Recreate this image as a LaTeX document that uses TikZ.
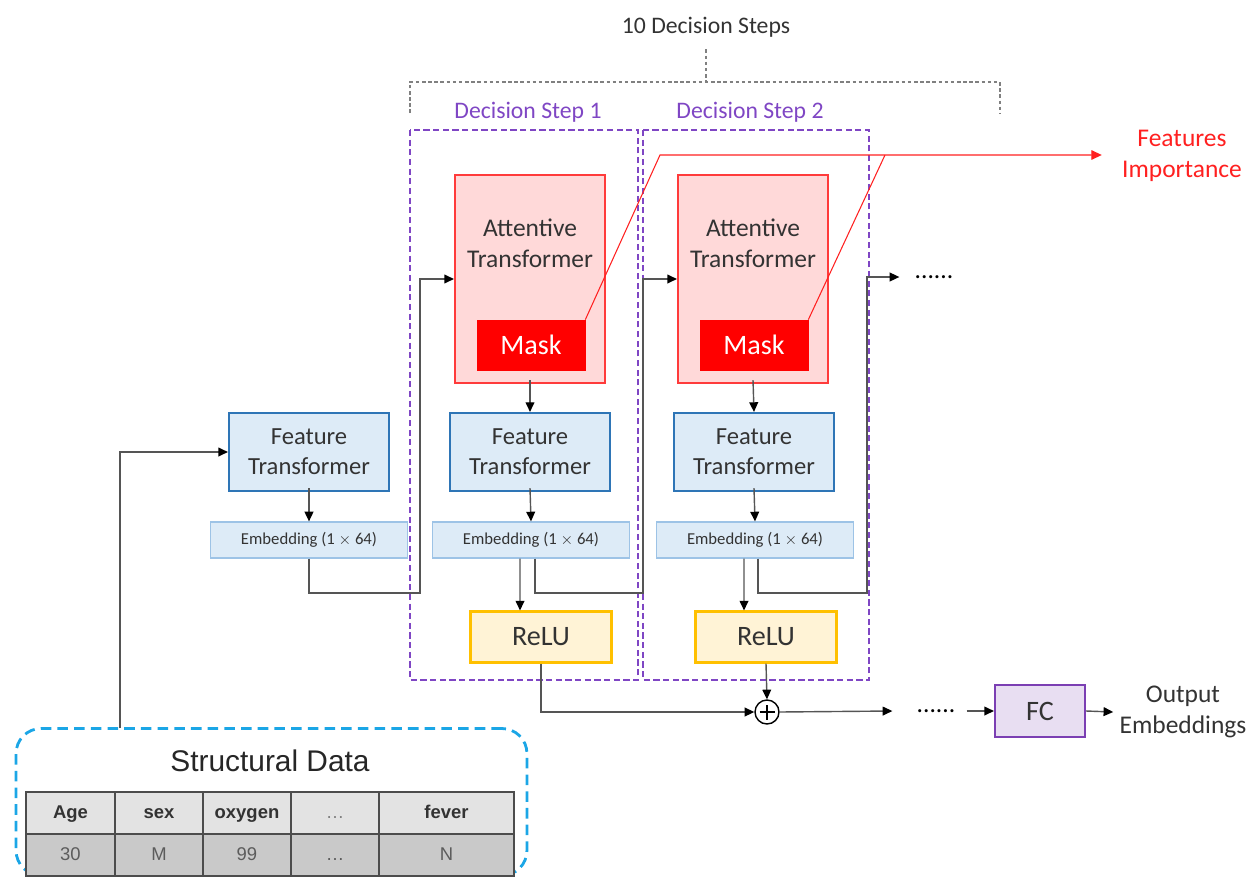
\documentclass[tikz,border=0pt]{standalone}
\usepackage{fontspec}
\setmainfont{Carlito}
\newfontfamily\arialfont{Liberation Sans}
\usetikzlibrary{arrows.meta}

\definecolor{atfill}{HTML}{FFD9D9}
\definecolor{atline}{HTML}{FF3B3B}
\definecolor{maskred}{HTML}{FF0000}
\definecolor{ftfill}{HTML}{DDEBF7}
\definecolor{ftline}{HTML}{2E75B6}
\definecolor{embline}{HTML}{9DC3E6}
\definecolor{relufill}{HTML}{FFF3D6}
\definecolor{reluline}{HTML}{FFC000}
\definecolor{fcfill}{HTML}{E8DEF2}
\definecolor{fcline}{HTML}{7B3FB3}
\definecolor{steppurple}{HTML}{7F46C4}
\definecolor{sdcyan}{HTML}{1BA6E6}
\definecolor{txtgray}{HTML}{333333}
\definecolor{linegray}{HTML}{555555}
\definecolor{impred}{HTML}{FF2020}

\tikzset{
  box/.style={draw, inner sep=0pt, align=center, text=txtgray,
    font=\fontsize{14}{17}\selectfont},
  attbox/.style={box, fill=atfill, draw=atline, line width=1.2pt,
    minimum width=3cm, minimum height=4.16cm},
  maskbox/.style={box, fill=maskred, draw=maskred, text=white,
    minimum width=2.16cm, minimum height=1cm, font=\fontsize{16}{19}\selectfont},
  ftbox/.style={box, fill=ftfill, draw=ftline, line width=1.2pt,
    minimum width=3.2cm, minimum height=1.56cm},
  embbox/.style={box, fill=ftfill, draw=embline, line width=0.7pt,
    minimum width=3.94cm, minimum height=0.72cm, font=\fontsize{9.5}{11}\selectfont},
  relubox/.style={box, fill=relufill, draw=reluline, line width=1.2pt,
    minimum width=2.82cm, minimum height=1.02cm, font=\fontsize{16}{19}\selectfont},
  fcbox/.style={box, fill=fcfill, draw=fcline, line width=1.2pt,
    minimum width=1.8cm, minimum height=1.04cm, font=\fontsize{16}{19}\selectfont},
  stepbox/.style={draw=steppurple, line width=0.9pt, dash pattern=on 3.5pt off 2pt},
  steplabel/.style={text=steppurple, font=\fontsize{13.5}{16}\selectfont},
  brace/.style={draw=gray, line width=0.6pt, dash pattern=on 2pt off 1.5pt},
  conn/.style={draw=linegray, line width=0.8pt},
  arr/.style={conn, -{Triangle[length=5.5pt,width=5pt,color=black]}},
  imp/.style={draw=impred, line width=0.6pt},
  plain/.style={inner sep=0pt, align=center, text=txtgray,
    font=\fontsize{14.5}{17.5}\selectfont},
  hdr/.style={inner sep=0pt, anchor=base, text=txtgray, font=\arialfont\bfseries\fontsize{10.5}{12}\selectfont},
  cell/.style={inner sep=0pt, anchor=base, text=txtgray!80, font=\arialfont\fontsize{10.5}{12}\selectfont},
}

\begin{document}
\begin{tikzpicture}[x=0.02cm, y=-0.02cm]
\useasboundingbox (0,0) rectangle (1251,879);

%% decision steps
\node[plain, font=\fontsize{13.5}{16}\selectfont] (steps) at (706,27) {10 Decision Steps};
\draw[brace] (410,113) -- (410,82) -- (1000,82) -- (1000,113);
\draw[brace] (steps.south) ++(0,12) -- (706,82);

\draw[stepbox] (410,130) rectangle (638,680);
\draw[stepbox] (643,130) rectangle (869,680);
\node[steplabel] (lab1) at (528,112) {Decision Step 1};
\node[steplabel] (lab2) at (750,112) {Decision Step 2};

%% blocks
\node[ftbox] (ft0) at (309,452) {Feature\\Transformer};
\node[embbox] (emb0) at (309,540) {Embedding (1 $\times$ 64)};

\node[attbox] (at1) at (530,279) {};
\node[plain] (at1txt) at (530,243) {Attentive\\Transformer};
\node[maskbox] (mask1) at (531,345) {Mask};
\node[ftbox] (ft1) at (530,452) {Feature\\Transformer};
\node[embbox] (emb1) at (531,540) {Embedding (1 $\times$ 64)};
\node[relubox] (relu1) at (541,637) {ReLU};

\node[attbox] (at2) at (753,279) {};
\node[plain] (at2txt) at (753,243) {Attentive\\Transformer};
\node[maskbox] (mask2) at (754,345) {Mask};
\node[ftbox] (ft2) at (754,452) {Feature\\Transformer};
\node[embbox] (emb2) at (755,540) {Embedding (1 $\times$ 64)};
\node[relubox] (relu2) at (766,637) {ReLU};

\node[circle, draw, line width=0.8pt, minimum size=0.48cm, inner sep=0pt] (sum) at (767,712) {};
\draw[line width=0.8pt] ([xshift=-0.15cm]sum.center) -- ([xshift=0.15cm]sum.center);
\draw[line width=0.8pt] ([yshift=-0.15cm]sum.center) -- ([yshift=0.15cm]sum.center);

\node[plain, text=black] (dots1) at (934,277) {......};
\node[plain, text=black] (dots2) at (936,711) {......};
\node[fcbox] (fc) at (1040,711) {FC};
\node[plain] (out) at (1183,712) {Output\\Embeddings};
\node[plain, text=impred] (fi) at (1182,156) {Features\\Importance};

%% structural data
\node[draw=sdcyan, line width=1.6pt, dash pattern=on 6pt off 3.5pt, rounded corners=0.5cm,
  minimum width=10.22cm, minimum height=2.94cm, inner sep=0pt] (sd) at (271.5,802) {};
\node[inner sep=0pt, text=black!85, font=\arialfont\fontsize{17}{20}\selectfont] (sdtitle) at (270,761) {Structural Data};
\fill[gray!22] (26,792) rectangle (514,834);
\fill[gray!42] (26,834) rectangle (514,876);
\draw[black!70, line width=0.9pt] (26,792) rectangle (514,876);
\draw[black!70, line width=0.9pt] (26,834) -- (514,834);
\foreach \xa in {115,203,291,379}
  \draw[black!70, line width=0.9pt] (\xa,792) -- (\xa,876);
\foreach \xc/\hd/\vl [count=\i] in {70.5/Age/30, 159/sex/M, 247/oxygen/99, 335/{\mdseries\color{gray}…}/…, 446.5/fever/N} {
  \node[hdr] (h\i) at (\xc,818) {\hd};
  \node[cell] (c\i) at (\xc,860) {\vl};
}
\coordinate (sdtap) at (120,728);

%% connectors
\draw[arr] (sdtap) |- (ft0.west);
\draw[arr] (ft0.south) ++(0,-4) -- (emb0.north);
\draw[arr] (emb0.south) |- (420,593) |- (at1.west);

\draw[arr] (at1.south) ++(0,-4) -- (ft1.north);
\draw[arr] (ft1.south) ++(0,-4) -- (emb1.north);
\draw[arr] ([xshift=-0.22cm]emb1.south) -- ([xshift=-0.42cm]relu1.north);
\draw[arr] ([xshift=0.08cm]emb1.south) |- (643,593) |- (at2.west);

\draw[arr] (at2.south) ++(0,-4) -- (ft2.north);
\draw[arr] (ft2.south) ++(0,-4) -- (emb2.north);
\draw[arr] ([xshift=-0.22cm]emb2.south) -- ([xshift=-0.44cm]relu2.north);
\draw[arr] ([xshift=0.06cm]emb2.south) |- (867,593) |- ([xshift=-0.3cm]dots1.west);

\draw[arr] (relu1.south) |- (sum.west);
\draw[arr] (relu2.south) -- (sum.north);
\draw[arr] (sum.east) -- ([xshift=-0.48cm]dots2.west);
\draw[arr] ([xshift=0.22cm]dots2.east) -- (fc.west);
\draw[arr] (fc.east) -- ([xshift=-0.12cm]out.west);

%% feature importance
\draw[imp, -{Triangle[length=6pt,width=5.5pt]}] (mask1.north east) -- (660,155) -- ([xshift=-0.4cm]fi.west |- 0,155);
\draw[imp] (mask2.north east) -- (885,155);

\end{tikzpicture}
\end{document}
